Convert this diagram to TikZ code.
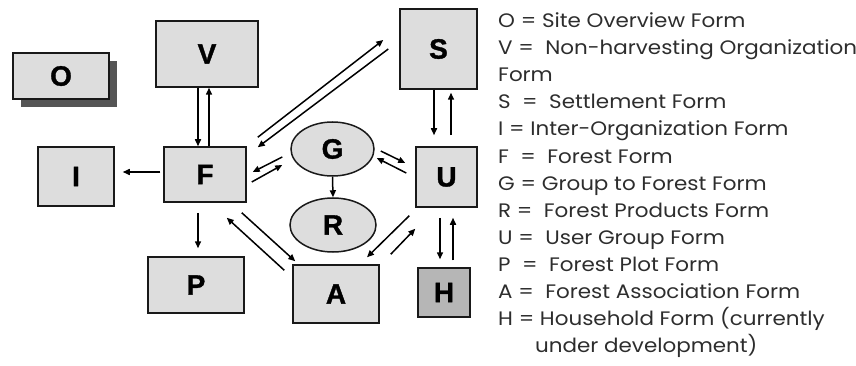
\documentclass[tikz,border=0pt]{standalone}
\usepackage{fontspec}
\setmainfont{Liberation Sans}
\newfontfamily\legendfont[FakeStretch=1.1]{Poppins}
\newfontfamily\boxfont[FakeBold=1.2]{Liberation Sans Bold}
\usetikzlibrary{arrows.meta,shapes.geometric}
\definecolor{boxfill}{RGB}{221,221,221}
\definecolor{hfill}{RGB}{182,182,182}
\definecolor{shadowgray}{RGB}{85,85,85}
\definecolor{legendtext}{RGB}{45,45,45}
\begin{document}
\begin{tikzpicture}[x=1pt,y=-1pt,
  form/.style={draw=black!90,line width=1.5pt,fill=boxfill,inner sep=0pt,
    font=\boxfont\fontsize{28}{28}\selectfont},
  oval/.style={form,ellipse},
  arr/.style={line width=1.5pt,-{Triangle[length=7pt,width=6pt]}}]
\useasboundingbox (0,0) rectangle (856,366);
% shadow of O
\fill[shadowgray] (21,61) rectangle (117,107);
\node[form,minimum width=96pt,minimum height=46pt] (O) at (61,76) {O};
\node[form,minimum width=102pt,minimum height=66pt] (V) at (207,54) {V};
\node[form,minimum width=77pt,minimum height=80pt] (S) at (438.5,49) {S};
\node[form,minimum width=76pt,minimum height=59pt] (I) at (76,176.5) {I};
\node[form,minimum width=82pt,minimum height=55pt] (F) at (205,174.5) {F};
\node[oval,minimum width=83pt,minimum height=54pt] (G) at (332.5,149) {G};
\node[oval,minimum width=86pt,minimum height=54pt] (R) at (333,225) {R};
\node[form,minimum width=61pt,minimum height=60pt] (U) at (446.5,177) {U};
\node[form,minimum width=96pt,minimum height=56pt] (P) at (196,285) {P};
\node[form,minimum width=86pt,minimum height=58pt] (A) at (336,294) {A};
\node[form,fill=hfill,minimum width=52pt,minimum height=49pt] (H) at (444,292.5) {H};
% connectors
\draw[arr] ([shift={(-9,0)}]V.south) -- ([shift={(-7,0)}]F.north);
\draw[arr] ([shift={(4,0)}]F.north) -- ([shift={(2,0)}]V.south);
\draw[arr] ([shift={(-3,-2.5)}]F.west) -- ([shift={(8,-4.5)}]I.east);
\draw[arr] ([shift={(-7,10)}]F.south) -- ([shift={(2,-8)}]P.north);
\draw[arr] ([shift={(11,-9)}]F.north east) -- ([shift={(-16,-9)}]S.west);
\draw[arr] ([shift={(-11,0)}]S.west) -- ([shift={(11,1)}]F.north east);
\draw[arr] ([shift={(-8,8)}]G.west) -- ([shift={(6,-2.5)}]F.east);
\draw[arr] ([shift={(5,7.5)}]F.east) -- ([shift={(-8,16)}]G.west);
\draw[arr] ([shift={(6,2)}]G.east) -- ([shift={(-10,-14)}]U.west);
\draw[arr] ([shift={(-9,-4)}]U.west) -- ([shift={(2,9)}]G.east);
\draw[arr] (G.south) -- (R.north);
\draw[arr] ([shift={(-4.5,0)}]S.south) -- ([shift={(-12.5,-11)}]U.north);
\draw[arr] ([shift={(4.5,-11)}]U.north) -- ([shift={(12.5,3)}]S.south);
\draw[arr] ([shift={(-6.5,10)}]U.south) -- ([shift={(-4,-8)}]H.north);
\draw[arr] ([shift={(9,-7)}]H.north) -- ([shift={(6.5,10)}]U.south);
\draw[arr] ([shift={(-6,8)}]U.south west) -- ([shift={(31,-7)}]A.north);
\draw[arr] ([shift={(11,-10)}]A.north east) -- ([shift={(0,21)}]U.south west);
\draw[arr] ([shift={(-5,10)}]F.south east) -- ([shift={(3,-3)}]A.north west);
\draw[arr] ([shift={(-8,6)}]A.north west) -- ([shift={(-20,15)}]F.south east);
% legend
\node[anchor=north west,align=left,inner sep=0pt,text=legendtext,
  font=\legendfont\fontsize{19.5}{27.1}\selectfont] (legend) at (498,12.5)
{O = Site Overview Form\\
V =\ \ Non-harvesting Organization\\
Form\\
S\ \ =\ \ Settlement Form\\
I = Inter-Organization Form\\
F\ \ =\ \ Forest Form\\
G = Group to Forest Form\\
R =\ \ Forest Products Form\\
U =\ \ User Group Form\\
P\ \ =\ \ Forest Plot Form\\
A =\ \ Forest Association Form\\
H = Household Form (currently\\
\hspace*{37pt}under development)};
\end{tikzpicture}
\end{document}
